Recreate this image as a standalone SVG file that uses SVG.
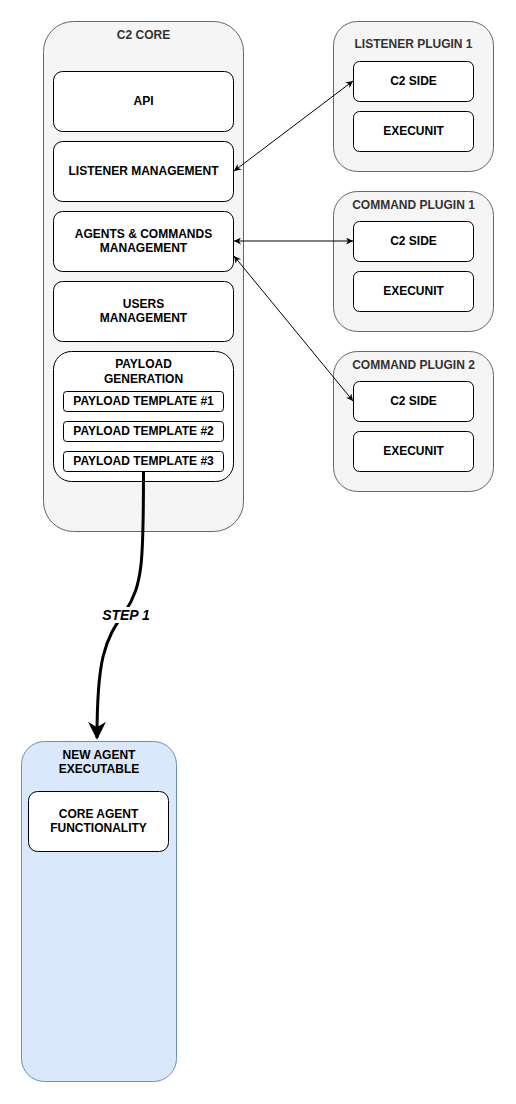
<svg xmlns="http://www.w3.org/2000/svg" width="516" height="1104" viewBox="0 0 516 1104">
<style>
.grp{fill:#f5f5f5;stroke:#666666;stroke-width:1}
.box{fill:#ffffff;stroke:#000000;stroke-width:1}
.t{font-family:"Liberation Sans",Arial,sans-serif;font-size:12px;font-weight:bold;fill:#000000;text-anchor:middle}
.g{fill:#333333}
.conn{fill:none;stroke:#000000;stroke-width:1}
</style>
<defs>
<marker id="ah" viewBox="0 0 10 10" refX="10" refY="5" markerWidth="7" markerHeight="7" orient="auto-start-reverse" markerUnits="userSpaceOnUse">
<path d="M0,0 L10,5 L0,10 L3,5 Z" fill="#000"/>
</marker>
<marker id="big" viewBox="0 0 10 10" refX="9" refY="5" markerWidth="18" markerHeight="18" orient="auto" markerUnits="userSpaceOnUse">
<path d="M0,0 L10,5 L0,10 L3,5 Z" fill="#000"/>
</marker>
</defs>
<rect width="516" height="1104" fill="#ffffff"/>
<g id="c2core">
<rect class="grp" x="43.5" y="21.5" width="200" height="510" rx="30"/>
<text class="t g" x="143.5" y="38.5">C2 CORE</text>
</g>
<g id="api"><rect class="box" x="53.5" y="71.5" width="180" height="60" rx="9"/><text class="t" x="143.5" y="104.5">API</text></g>
<g id="listenermgmt"><rect class="box" x="53.5" y="141.5" width="180" height="60" rx="9"/><text class="t" x="143.5" y="174.5">LISTENER MANAGEMENT</text></g>
<g id="agentsmgmt"><rect class="box" x="53.5" y="211.5" width="180" height="60" rx="9"/><text class="t" x="143.5" y="237.5">AGENTS &amp; COMMANDS</text><text class="t" x="143.5" y="251.5">MANAGEMENT</text></g>
<g id="usersmgmt"><rect class="box" x="53.5" y="281.5" width="180" height="60" rx="9"/><text class="t" x="143.5" y="307.5">USERS</text><text class="t" x="143.5" y="321.5">MANAGEMENT</text></g>
<g id="payloadgen"><rect class="box" x="53.5" y="351.5" width="180" height="130" rx="18"/><text class="t" x="143.5" y="367.5">PAYLOAD</text><text class="t" x="143.5" y="382.5">GENERATION</text></g>
<g id="tpl1"><rect class="box" x="63.5" y="391.5" width="160" height="20" rx="3"/><text class="t" x="143.5" y="405">PAYLOAD TEMPLATE #1</text></g>
<g id="tpl2"><rect class="box" x="63.5" y="421.5" width="160" height="20" rx="3"/><text class="t" x="143.5" y="435">PAYLOAD TEMPLATE #2</text></g>
<g id="tpl3"><rect class="box" x="63.5" y="451.5" width="160" height="20" rx="3"/><text class="t" x="143.5" y="465">PAYLOAD TEMPLATE #3</text></g>

<g id="listenerplugin1"><rect class="grp" x="333.5" y="21.5" width="160" height="150" rx="24"/><text class="t g" x="413.5" y="48">LISTENER PLUGIN 1</text></g>
<g id="lp1c2"><rect class="box" x="353.5" y="61.5" width="120" height="40" rx="6"/><text class="t" x="413.5" y="85">C2 SIDE</text></g>
<g id="lp1exec"><rect class="box" x="353.5" y="111.5" width="120" height="40" rx="6"/><text class="t" x="413.5" y="135">EXECUNIT</text></g>

<g id="commandplugin1"><rect class="grp" x="333.5" y="191.5" width="160" height="140" rx="24"/><text class="t g" x="413.5" y="208.5">COMMAND PLUGIN 1</text></g>
<g id="cp1c2"><rect class="box" x="353.5" y="221.5" width="120" height="40" rx="6"/><text class="t" x="413.5" y="245">C2 SIDE</text></g>
<g id="cp1exec"><rect class="box" x="353.5" y="271.5" width="120" height="40" rx="6"/><text class="t" x="413.5" y="295">EXECUNIT</text></g>

<g id="commandplugin2"><rect class="grp" x="333.5" y="351.5" width="160" height="140" rx="24"/><text class="t g" x="413.5" y="368.5">COMMAND PLUGIN 2</text></g>
<g id="cp2c2"><rect class="box" x="353.5" y="381.5" width="120" height="40" rx="6"/><text class="t" x="413.5" y="405">C2 SIDE</text></g>
<g id="cp2exec"><rect class="box" x="353.5" y="431.5" width="120" height="40" rx="6"/><text class="t" x="413.5" y="455">EXECUNIT</text></g>

<g id="newagent"><rect x="21.5" y="741.5" width="155" height="340" rx="23" fill="#dae8fc" stroke="#6c8ebf"/><text class="t" x="99" y="758.5">NEW AGENT</text><text class="t" x="99" y="773">EXECUTABLE</text></g>
<g id="coreagent"><rect class="box" x="28.5" y="791.5" width="140" height="60" rx="9"/><text class="t" x="98.5" y="817.5">CORE AGENT</text><text class="t" x="98.5" y="831.5">FUNCTIONALITY</text></g>

<g id="connectors">
<path class="conn" d="M234,171 L353,81" marker-start="url(#ah)" marker-end="url(#ah)"/>
<path class="conn" d="M234,241 L353,241" marker-start="url(#ah)" marker-end="url(#ah)"/>
<path class="conn" d="M234,256 L353,401" marker-start="url(#ah)" marker-end="url(#ah)"/>
<path d="M143.5,471 C143.5,560 143,585 125,612 C104,640 97,660 97,738" fill="none" stroke="#000" stroke-width="3" marker-end="url(#big)"/>
<text x="126" y="619.5" font-family="Liberation Sans,Arial,sans-serif" font-size="14" font-weight="bold" font-style="italic" text-anchor="middle" stroke="#fff" stroke-width="6" paint-order="stroke" fill="#000">STEP 1</text>
</g>
</svg>
